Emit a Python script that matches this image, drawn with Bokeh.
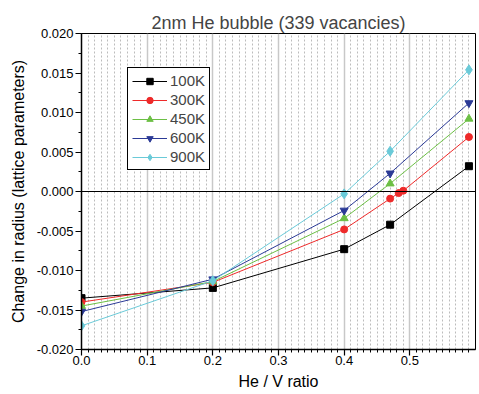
import numpy as np
from bokeh.plotting import figure
from bokeh.models import Range1d, SingleIntervalTicker, PrintfTickFormatter, Span
from bokeh.embed import file_html
from bokeh.resources import INLINE

# ---- data ----
he_v = [0.0, 0.2, 0.4, 0.47, 0.59]
he_v_300 = [0.0, 0.2, 0.4, 0.47, 0.483, 0.49, 0.59]
d100 = [-0.0135, -0.0122, -0.0073, -0.0042, 0.0032]
d300 = [-0.0140, -0.0115, -0.0048, -0.0009, -0.0002, 0.0001, 0.0069]
d450 = [-0.0145, -0.0114, -0.0034, 0.0010, 0.0092]
d600 = [-0.0152, -0.0111, -0.0024, 0.0023, 0.0112]
d900 = [-0.0170, -0.0113, -0.0003, 0.0051, 0.0154]
labels = ["100K", "300K", "450K", "600K", "900K"]
title_text = "2nm He bubble (339 vacancies)"
x_label = "He / V ratio"
y_label = "Change in radius (lattice parameters)"

FONT = "Liberation Sans"

p = figure(width=479, height=394, output_backend="svg", toolbar_location=None,
           x_range=Range1d(0, 0.6), y_range=Range1d(-0.02, 0.02),
           min_border_left=81, min_border_right=4, min_border_top=33,
           min_border_bottom=45, background_fill_color="white",
           border_fill_color="white")

p.title.text = title_text
p.title.text_font = FONT
p.title.text_font_size = "18px"
p.title.text_font_style = "normal"
p.title.align = "center"
p.title.offset = 4
p.title.standoff = 2

p.xaxis.ticker = SingleIntervalTicker(interval=0.1, num_minor_ticks=10)
p.yaxis.ticker = SingleIntervalTicker(interval=0.005, num_minor_ticks=2)
p.xaxis.formatter = PrintfTickFormatter(format="%.1f")
p.yaxis.formatter = PrintfTickFormatter(format="%.3f")

for ax in (p.xaxis[0], p.yaxis[0]):
    ax.axis_line_color = "black"
    ax.axis_line_width = 1.5
    ax.major_tick_line_color = "black"
    ax.minor_tick_line_color = "black"
    ax.major_tick_line_width = 1.2
    ax.minor_tick_line_width = 1
    ax.major_tick_in = 0
    ax.major_tick_out = 6
    ax.minor_tick_in = 0
    ax.minor_tick_out = 3
    ax.major_label_text_font = FONT
    ax.major_label_text_font_size = "13px"
    ax.major_label_text_color = "black"
    ax.axis_label_text_font = FONT
    ax.axis_label_text_font_size = "16px"
    ax.axis_label_text_font_style = "normal"
    ax.axis_label_text_color = "black"

p.xaxis.axis_label = x_label
p.yaxis.axis_label = y_label
p.xaxis.major_label_standoff = 0
p.xaxis.axis_label_standoff = 5
p.yaxis.major_label_standoff = 2
p.yaxis.axis_label_standoff = 7

p.xgrid.grid_line_color = "#c8c8c8"
p.xgrid.grid_line_width = 1.5
p.xgrid.minor_grid_line_color = "#bcbcbc"
p.xgrid.minor_grid_line_dash = "2 2"
p.xgrid.minor_grid_line_width = 1
p.ygrid.visible = False

p.outline_line_color = "black"
p.outline_line_width = 1
p.outline_line_alpha = 1

p.add_layout(Span(location=0, dimension="width", line_color="black", line_width=1))

series = [
    (he_v, d100, "#000000", "square", 7),
    (he_v_300, d300, "#EE2A2A", "circle", 7),
    (he_v, d450, "#6CBF45", "triangle", 8),
    (he_v, d600, "#2B3A96", "inverted_triangle", 8),
    (he_v, d900, "#6ACAD8", "diamond", 10),
]
for (xs, ys, col, mk, sz), lab in zip(series, labels):
    p.line(xs, ys, line_color=col, line_width=1, legend_label=lab)
    p.scatter(xs, ys, marker=mk, size=sz, fill_color=col,
              line_color=col, legend_label=lab)

lg = p.legend[0]
lg.location = (46, 179)
lg.border_line_color = "black"
lg.border_line_width = 1
lg.border_line_alpha = 1
lg.background_fill_color = "white"
lg.background_fill_alpha = 1
lg.label_text_font = FONT
lg.label_text_font_size = "15px"
lg.label_standoff = 3
lg.glyph_width = 35
lg.glyph_height = 16
lg.label_height = 16
lg.spacing = 2
lg.padding = 4
lg.margin = 0

open("out.html", "w").write(file_html(p, INLINE))
